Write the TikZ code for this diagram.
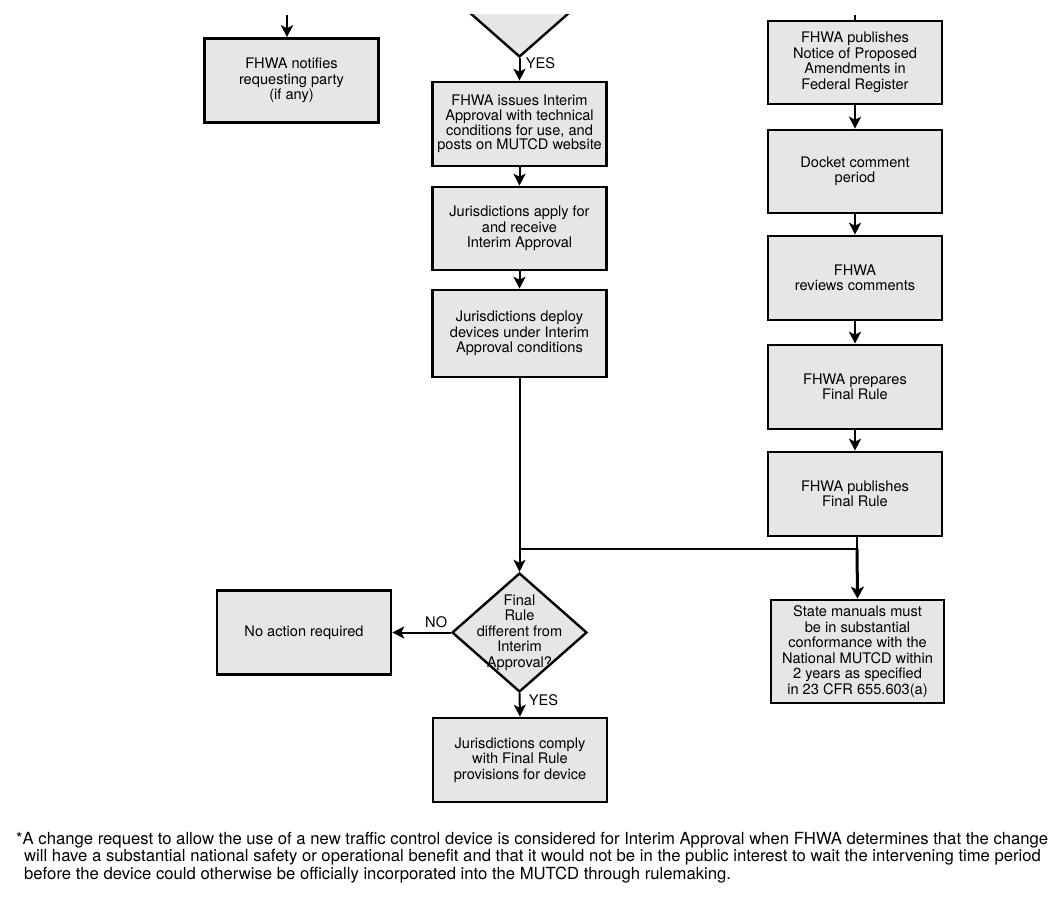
\documentclass[tikz,border=0pt]{standalone}
\usepackage{fontspec}
\setmainfont{TeX Gyre Heros}
\usetikzlibrary{shapes.geometric,arrows.meta}
\definecolor{boxgray}{RGB}{230,230,230}
\newcommand{\boxfont}{\fontsize{14.6}{15.5}\selectfont}
\tikzset{
  box/.style={draw=black, fill=boxgray, line width=2.6pt, minimum width=#1, minimum height=84pt, inner sep=0pt, align=center, font=\boxfont},
  box/.default=174pt,
  dec/.style={draw=black, fill=boxgray, line width=2.4pt, diamond, minimum width=135pt, minimum height=119pt, inner sep=0pt},
  conn/.style={line width=2pt},
  arr/.style={conn, -{Stealth[length=12pt,width=12pt,inset=3pt]}},
  lbl/.style={font=\boxfont},
  foot/.style={anchor=base west, inner sep=0pt}
}
\newlength{\fnwidth}
\begin{document}
\settowidth{\fnwidth}{\fontsize{10}{10}\selectfont *A change request to allow the use of a new traffic control device is considered for Interim Approval when FHWA determines that the change}%
\pgfmathsetmacro{\fnsize}{10*1032/\fnwidth}%
\begin{tikzpicture}[x=1pt,y=-1pt]
\tikzset{foot/.append style={font=\fontsize{\fnsize pt}{17.5pt}\selectfont}}
\useasboundingbox (0,0) rectangle (1063,901);
\begin{scope}
  \clip (0,15) rectangle (1063,901);
  \node[dec] (topdec) at (519.5,-2.5) {};
\end{scope}
\coordinate (lin) at (287,15);
\coordinate (rin) at (855,15);
% middle column
\node[box] (notify) at (291.5,80.5) {FHWA notifies\\requesting party\\(if any)};
\node[box, font=\fontsize{14.6}{14.8}\selectfont] (issue) at (519.5,124) {FHWA issues Interim\\Approval with technical\\conditions for use, and\\posts on MUTCD website};
\node[box, minimum height=83pt] (apply) at (519.5,228.5) {Jurisdictions apply for\\and receive\\Interim Approval};
\node[box, minimum height=87pt] (deploy) at (519.5,333.5) {Jurisdictions deploy\\devices under Interim\\Approval conditions};
\node[dec, label={[align=center, font=\boxfont]center:Final\\Rule\\different from\\Interim\\Approval?}] (final) at (519.5,632.5) {};
\node[box] (noaction) at (304,632.5) {No action required};
\node[box] (comply) at (520,760) {Jurisdictions comply\\with Final Rule\\provisions for device};
% right column
\node[box, minimum height=83pt] (nprm) at (855,62.5) {FHWA publishes\\Notice of Proposed\\Amendments in\\Federal Register};
\node[box, minimum height=83pt] (docket) at (855,171.5) {Docket comment\\period};
\node[box] (review) at (855,278) {FHWA\\reviews comments};
\node[box] (prep) at (855,387) {FHWA prepares\\Final Rule};
\node[box] (pub) at (855,494) {FHWA publishes\\Final Rule};
\node[box=173pt, minimum height=103pt] (state) at (857.5,651.5) {State manuals must\\be in substantial\\conformance with the\\National MUTCD within\\2 years as specified\\in 23 CFR 655.603(a)};
\coordinate (jl) at (519.5,549);
\coordinate (jr) at (857,549);
% connectors
\draw[arr] (lin) -- (lin |- notify.north);
\draw[conn] (rin) -- (rin |- nprm.north);
\draw[arr] (topdec.south) -- node[lbl, right, pos=0.22, xshift=2pt]{YES} (issue.north);
\draw[arr] (issue) -- (apply);
\draw[arr] (apply) -- (deploy);
\draw[conn] (deploy.south) -- (jl);
\draw[arr] (jl) -- (final.north);
\draw[conn] (jl) -- (jr);
\draw[arr] (final.west) -- node[lbl, above, pos=0.25]{NO} (noaction.east);
\draw[arr] (final.south) -- node[lbl, right, pos=0.3, xshift=5pt]{YES} (comply.north);
\draw[arr] (nprm) -- (docket);
\draw[arr] (docket) -- (review);
\draw[arr] (review) -- (prep);
\draw[arr] (prep) -- (pub);
\draw[conn] (jr |- pub.south) -- (jr);
\draw[line width=3pt, -{Stealth[length=12pt,width=13pt,inset=3pt]}] (jr) -- (state.north);
% footnote
\node[foot] (f1) at (16,844) {*A change request to allow the use of a new traffic control device is considered for Interim Approval when FHWA determines that the change};
\node[foot] (f2) at (24,861.5) {will have a substantial national safety or operational benefit and that it would not be in the public interest to wait the intervening time period};
\node[foot] (f3) at (24,879) {before the device could otherwise be officially incorporated into the MUTCD through rulemaking.};
\end{tikzpicture}
\end{document}
